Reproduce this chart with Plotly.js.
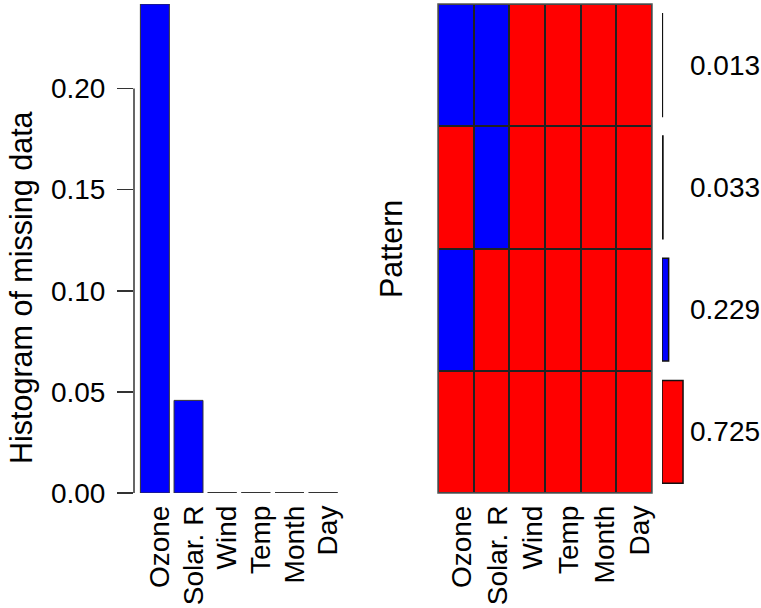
<!DOCTYPE html>
<html>
<head>
<meta charset="utf-8">
<script src="https://cdn.plot.ly/plotly-3.0.1.min.js"></script>
<style>
  body { margin: 0; background: #fff; }
  #chart { width: 761px; height: 608px; }
</style>
</head>
<body>
<div id="chart"></div>
<script>
// Variables and share of missing values per variable
const variables = ['Ozone', 'Solar. R', 'Wind', 'Temp', 'Month', 'Day'];
const missingShare = [0.2418, 0.0458, 0, 0, 0, 0];
const yTicks = [0, 0.05, 0.10, 0.15, 0.20];

// Missingness patterns, bottom row first (1 = missing)
const patternComplete = [0, 0, 0, 0, 0, 0];
const patternOzone = [1, 0, 0, 0, 0, 0];
const patternSolar = [0, 1, 0, 0, 0, 0];
const patternBoth = [1, 1, 0, 0, 0, 0];
const patternShare = [0.725, 0.229, 0.033, 0.013];

const W = 761, H = 608;
const px = v => v / W;
const py = v => 1 - v / H;

const FONT = 'Liberation Sans, Arial, Helvetica, sans-serif';
const BLUE = '#0000ff';
const RED = '#ff0000';
const EDGE = '#333333';

const idx = variables.map((_, i) => i);
const patterns = [patternComplete, patternOzone, patternSolar, patternBoth];

// zero-height bars are drawn by R as a flat outline; build those segments
const halfBar = 0.43;
const flatX = [], flatY = [];
missingShare.forEach((v, i) => {
  if (v === 0) {
    flatX.push(i - halfBar, i + halfBar, null);
    flatY.push(v, v, null);
  }
});

const data = [
  {
    type: 'bar',
    x: idx,
    y: missingShare,
    width: halfBar * 2,
    marker: { color: BLUE, line: { color: EDGE, width: 1 } },
    xaxis: 'x', yaxis: 'y',
    hoverinfo: 'skip'
  },
  {
    type: 'scatter',
    mode: 'lines',
    x: flatX,
    y: flatY,
    line: { color: EDGE, width: 2 },
    cliponaxis: false,
    xaxis: 'x', yaxis: 'y',
    hoverinfo: 'skip'
  },
  {
    type: 'heatmap',
    x: idx,
    y: patterns.map((_, i) => i),
    z: patterns,
    zmin: 0, zmax: 1,
    colorscale: [[0, RED], [0.5, RED], [0.5, BLUE], [1, BLUE]],
    showscale: false,
    xgap: 2, ygap: 2,
    xaxis: 'x2', yaxis: 'y2',
    hoverinfo: 'skip'
  },
  {
    type: 'bar',
    orientation: 'h',
    x: patternShare,
    y: patternShare.map((_, i) => i),
    width: 0.84,
    marker: {
      color: patterns.map(p => p.some(v => v === 1) ? BLUE : RED),
      line: { color: '#111', width: 1.5 }
    },
    xaxis: 'x3', yaxis: 'y3',
    hoverinfo: 'skip'
  }
];

const numFont = { family: FONT, size: 28, color: '#000' };
const textFont = { family: FONT, size: 30.5, color: '#000' };

const layout = {
  width: W,
  height: H,
  margin: { l: 0, r: 0, t: 0, b: 0 },
  paper_bgcolor: '#fff',
  plot_bgcolor: 'rgba(0,0,0,0)',
  showlegend: false,
  font: { family: FONT, size: 28, color: '#000' },
  xaxis: {
    domain: [px(134), px(344)],
    range: [-0.62, 5.62],
    tickvals: idx,
    ticktext: variables,
    tickangle: -90,
    tickfont: numFont,
    ticks: '',
    ticklabelstandoff: 6,
    ticklabelshift: 5,
    showgrid: false, zeroline: false, showline: false,
    anchor: 'y'
  },
  yaxis: {
    domain: [py(493), py(4)],
    range: [0, 0.2418],
    tickvals: yTicks,
    ticktext: yTicks.map(v => v.toFixed(2)),
    tickfont: numFont,
    ticks: 'outside',
    ticklen: 16,
    tickwidth: 1.5,
    tickcolor: EDGE,
    ticklabelstandoff: 6,
    showgrid: false, zeroline: false, showline: false,
    anchor: 'x'
  },
  xaxis2: {
    domain: [px(438), px(652)],
    range: [-0.5, 5.5],
    tickvals: idx,
    ticktext: variables,
    tickangle: -90,
    tickfont: numFont,
    ticks: '',
    ticklabelstandoff: 6,
    ticklabelshift: 6,
    showgrid: false, zeroline: false, showline: false,
    anchor: 'y2'
  },
  yaxis2: {
    domain: [py(493), py(4)],
    range: [-0.5, 3.5],
    showticklabels: false,
    ticks: '',
    showgrid: false, zeroline: false, showline: false,
    anchor: 'x2'
  },
  xaxis3: {
    domain: [px(662), px(691)],
    range: [0, 1],
    showticklabels: false,
    ticks: '',
    showgrid: false, zeroline: false, showline: false,
    anchor: 'y3'
  },
  yaxis3: {
    domain: [py(493), py(4)],
    range: [-0.5, 3.5],
    showticklabels: false,
    ticks: '',
    showgrid: false, zeroline: false, showline: false,
    anchor: 'x3'
  },
  shapes: [
    // left axis line, only across the tick range as in R
    {
      type: 'line', layer: 'above',
      xref: 'x domain', x0: 0, x1: 0,
      yref: 'y', y0: yTicks[0], y1: yTicks[yTicks.length - 1],
      line: { color: EDGE, width: 1.5 }
    },
    // dark frame behind the heatmap so the gaps read as cell borders
    {
      type: 'rect', layer: 'below',
      xref: 'x2 domain', x0: 0, x1: 1,
      yref: 'y2 domain', y0: 0, y1: 1,
      fillcolor: '#222', line: { color: '#555', width: 1.5 }
    }
  ],
  annotations: [
    {
      text: 'Histogram of missing data',
      xref: 'paper', yref: 'paper',
      x: px(22), y: py(288),
      xanchor: 'center', yanchor: 'middle',
      textangle: -90, showarrow: false,
      font: textFont
    },
    {
      text: 'Pattern',
      xref: 'paper', yref: 'paper',
      x: px(391), y: py(249),
      xanchor: 'center', yanchor: 'middle',
      textangle: -90, showarrow: false,
      font: textFont
    }
  ].concat(patternShare.map((v, i) => ({
    text: v.toFixed(3),
    xref: 'paper', yref: 'y3',
    x: px(688), y: i,
    xanchor: 'left', yanchor: 'middle',
    showarrow: false,
    font: numFont
  })))
};

Plotly.newPlot('chart', data, layout, { displayModeBar: false, staticPlot: true });
</script>
</body>
</html>
